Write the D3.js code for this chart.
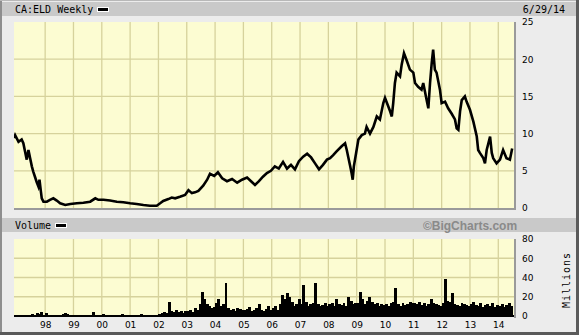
<!DOCTYPE html>
<html>
<head>
<meta charset="utf-8">
<script src="https://cdn.jsdelivr.net/npm/d3@7/dist/d3.min.js"></script>
<style>
  body { margin: 0; background: #ececec; }
  svg { display: block; }
</style>
</head>
<body>
<svg id="chart" width="579" height="335"></svg>
<script>
// weekly close (decimal year / price)
const priceT = [1996.90,1996.94,1997.06,1997.17,1997.23,1997.29,1997.35,1997.41,1997.47,1997.53,1997.58,1997.64,1997.70,1997.76,1997.80,1997.85,1997.88,1997.94,
  1998.06,1998.17,1998.29,1998.41,1998.53,1998.71,1998.89,1999.12,1999.35,1999.59,1999.77,1999.88,2000.06,2000.29,2000.53,2000.76,2001.00,2001.23,2001.47,2001.70,2001.94,
  2002.06,2002.17,2002.35,2002.47,2002.59,2002.76,2002.94,2003.06,2003.18,2003.29,2003.41,2003.58,2003.72,2003.82,2003.97,2004.10,2004.25,2004.42,2004.60,2004.78,2004.95,
  2005.13,2005.27,2005.41,2005.55,2005.69,2005.83,2005.97,2006.11,2006.25,2006.40,2006.54,2006.68,2006.82,2006.96,2007.11,2007.25,2007.39,2007.53,2007.67,2007.81,2007.95,
  2008.06,2008.17,2008.29,2008.47,2008.59,2008.65,2008.70,2008.76,2008.82,2008.86,2008.90,2008.98,2009.06,2009.18,2009.29,2009.35,2009.47,2009.59,2009.71,2009.82,2009.94,
  2010.00,2010.12,2010.18,2010.24,2010.29,2010.35,2010.41,2010.53,2010.59,2010.67,2010.76,2010.88,2011.00,2011.06,2011.17,2011.29,2011.35,2011.47,2011.53,2011.59,2011.65,2011.70,2011.76,2011.82,2011.94,
  2012.00,2012.12,2012.23,2012.35,2012.47,2012.53,2012.59,2012.65,2012.71,2012.82,2012.88,2013.00,2013.12,2013.24,2013.29,2013.35,2013.47,2013.53,2013.59,2013.65,2013.71,2013.77,2013.82,2013.94,
  2014.06,2014.17,2014.29,2014.41,2014.49];
const priceV = [9.4,9.8,8.9,9.2,8.7,7.6,6.5,7.8,6.7,5.6,4.9,4.2,3.5,2.9,3.8,2.2,1.3,0.85,
  0.85,1.1,1.3,1.0,0.63,0.4,0.54,0.63,0.7,0.85,1.3,1.1,1.1,1.0,0.85,0.77,0.63,0.54,0.4,0.31,0.31,
  0.63,0.94,1.2,1.4,1.3,1.5,1.75,2.4,2.0,2.1,2.3,3.0,3.8,4.6,4.3,4.8,4.0,3.6,3.9,3.4,3.8,
  4.1,3.6,3.1,3.6,4.2,4.7,5.0,5.6,5.3,6.2,5.3,5.8,5.2,6.3,6.9,7.3,6.8,6.0,5.2,5.8,6.5,
  6.7,7.1,7.6,8.3,8.7,7.8,6.9,5.8,4.7,3.8,5.6,7.4,9.2,9.8,10.0,10.9,10.0,10.9,12.3,11.9,14.1,
  14.8,13.6,13.0,12.3,14.1,16.8,18.2,17.7,19.3,20.8,19.9,18.6,18.2,16.8,16.3,15.9,16.8,14.5,13.4,16.8,19.5,21.3,18.6,18.2,15.9,
  14.1,14.3,13.4,12.7,11.9,10.7,10.5,13.0,14.5,15.0,14.3,13.2,11.6,9.6,7.8,7.4,6.7,6.0,7.8,8.7,9.6,7.4,6.7,6.0,
  6.5,7.8,6.7,6.5,8.0];

// volume in millions, one value per month from Nov 1996
const volStart = 1996 + 10 / 12;
const volumeM = [0.5,0.4,
  0.4,0.5,0.6,0.5,0.8,0.6,2.5,1.5,3.5,2,4,1.5,
  3,1,0.8,0.6,0.5,0.4,0.6,2.5,2.8,2,0.5,0.4,
  0.4,0.5,0.5,0.4,0.4,0.3,0.4,0.4,4,0.3,0.4,0.5,
  2,0.5,0.8,0.5,0.3,0.3,0.4,0.4,2,0.3,0.3,0.3,
  0.3,0.3,0.3,0.4,2,0.3,0.3,0.3,0.3,0.3,0.4,0.3,
  2,3,4,3,15,5,4,6,4,5,3,5,
  5,6,4,8,6,12,25,18,12,10,8,9,
  14,18,10,12,34,8,6,7,5,8,7,6,
  6,7,9,5,6,8,12,6,5,7,10,6,
  8,10,6,12,22,18,24,20,15,10,12,18,
  12,32,15,10,12,14,34,12,10,11,14,10,
  12,14,10,18,12,11,14,10,20,16,12,14,
  14,25,18,12,16,20,15,12,14,10,12,11,
  12,10,14,15,29,12,10,14,11,12,15,13,
  13,12,15,11,14,10,12,18,14,12,11,10,
  14,38,16,15,24,12,11,10,13,12,11,10,
  12,15,11,10,13,9,11,12,10,14,9,11,
  10,12,9,11,13,10];

const priceTicks = [0, 5, 10, 15, 20, 25];
const volTicks = [0, 20, 40, 60, 80];
const yearTicks = d3.range(1998, 2015);

const W = 579, H = 335;
const left = 14, right = 515;
const pTop = 22, pBottom = 208;
const vTop = 239, vBottom = 316;
const gridColor = "#d6d29c";
const plotFill = "#fcfcd2";
const mono = "'DejaVu Sans Mono', monospace";
const sans = "'DejaVu Sans', sans-serif";

const svg = d3.select("#chart");

// frame
svg.append("rect").attr("width", W).attr("height", H).attr("fill", "#ececec");
svg.append("rect").attr("x", 0).attr("y", 0).attr("width", 2).attr("height", H).attr("fill", "#8e8e8e");
svg.append("rect").attr("x", 0).attr("y", 0).attr("width", W).attr("height", 1).attr("fill", "#b8b8b8");
svg.append("rect").attr("x", W - 3).attr("y", 0).attr("width", 3).attr("height", H).attr("fill", "#5a5a5a");
svg.append("rect").attr("x", 0).attr("y", H - 3).attr("width", W).attr("height", 3).attr("fill", "#5a5a5a");

// header bands
svg.append("rect").attr("x", 2).attr("y", 2).attr("width", W - 5).attr("height", 14).attr("fill", "#c9c9c9");
svg.append("rect").attr("x", 2).attr("y", 218).attr("width", W - 5).attr("height", 14).attr("fill", "#c9c9c9");

const x = d3.scaleLinear().domain([1996.90, 2014.59]).range([left, right]);
const yP = d3.scaleLinear().domain([0, 25]).range([pBottom, pTop]);
const yV = d3.scaleLinear().domain([0, 80]).range([vBottom, vTop]);

function panel(top, bottom, yScale, ticks, id) {
  const g = svg.append("g");
  g.append("clipPath").attr("id", id).append("rect")
    .attr("x", left).attr("y", top).attr("width", right - left).attr("height", bottom - top);
  g.append("rect").attr("x", left).attr("y", top).attr("width", right - left).attr("height", bottom - top)
    .attr("fill", plotFill);
  g.selectAll(".vg").data(yearTicks).enter().append("line")
    .attr("x1", d => x(d)).attr("x2", d => x(d)).attr("y1", top).attr("y2", bottom)
    .attr("stroke", gridColor).attr("stroke-width", 1.3);
  g.selectAll(".hg").data(ticks.filter(t => yScale(t) > top + 2 && yScale(t) < bottom - 2)).enter().append("line")
    .attr("x1", left).attr("x2", right).attr("y1", d => yScale(d)).attr("y2", d => yScale(d))
    .attr("stroke", gridColor).attr("stroke-width", 1.3);
  // right axis labels
  const ax = svg.append("g").attr("transform", `translate(${right + 6},0)`)
    .call(d3.axisRight(yScale).tickValues(ticks).tickSize(0).tickPadding(1));
  ax.select(".domain").remove();
  ax.selectAll("text").attr("font-family", sans).attr("font-size", 9).attr("fill", "#000");
  return g;
}

const gp = panel(pTop, pBottom, yP, priceTicks, "clipP");
const gv = panel(vTop, vBottom, yV, volTicks, "clipV");

// price line
const line = d3.line().x((d, i) => x(priceT[i])).y(d => yP(d));
gp.append("path").datum(priceV).attr("clip-path", "url(#clipP)")
  .attr("d", line).attr("fill", "none").attr("stroke", "#000")
  .attr("stroke-width", 2.6).attr("stroke-linejoin", "miter");

// plot shadow border
gp.append("rect").attr("x", right - 1).attr("y", pTop).attr("width", 2).attr("height", pBottom - pTop + 1).attr("fill", "#9a9a9a");
gp.append("rect").attr("x", left).attr("y", pBottom).attr("width", right - left + 1).attr("height", 2).attr("fill", "#9a9a9a");

// volume bars
const bw = x(1 / 12) - x(0);
gv.append("g").attr("clip-path", "url(#clipV)").selectAll("rect").data(volumeM).enter().append("rect")
  .attr("x", (d, i) => x(volStart + i / 12))
  .attr("width", bw + 0.6)
  .attr("y", d => yV(d))
  .attr("height", d => vBottom - yV(d))
  .attr("fill", "#000")
  .attr("shape-rendering", "crispEdges");
gv.append("rect").attr("x", left).attr("y", vBottom - 1).attr("width", right - left).attr("height", 2).attr("fill", "#000");
gv.append("rect").attr("x", right - 1).attr("y", vTop).attr("width", 2).attr("height", vBottom - vTop + 2).attr("fill", "#9a9a9a");

// x axis labels
const xa = svg.append("g").attr("transform", `translate(0,${vBottom + 2})`)
  .call(d3.axisBottom(x).tickValues(yearTicks).tickSize(0).tickPadding(4)
    .tickFormat(d => String(d % 100).padStart(2, "0")));
xa.select(".domain").remove();
xa.selectAll("text").attr("font-family", sans).attr("font-size", 9).attr("fill", "#000");

// header texts
svg.append("text").attr("x", 15).attr("y", 13).attr("font-family", mono).attr("font-size", 10)
  .text("CA:ELD Weekly");
svg.append("rect").attr("x", 97).attr("y", 7).attr("width", 12).attr("height", 5).attr("fill", "#fff");
svg.append("rect").attr("x", 98).attr("y", 8).attr("width", 10).attr("height", 3).attr("fill", "#000");
svg.append("text").attr("x", 565).attr("y", 13).attr("text-anchor", "end")
  .attr("font-family", mono).attr("font-size", 10).text("6/29/14");

svg.append("text").attr("x", 15).attr("y", 229).attr("font-family", mono).attr("font-size", 10)
  .text("Volume");
svg.append("rect").attr("x", 55).attr("y", 223).attr("width", 12).attr("height", 5).attr("fill", "#fff");
svg.append("rect").attr("x", 56).attr("y", 224).attr("width", 10).attr("height", 3).attr("fill", "#000");
svg.append("text").attr("x", 470).attr("y", 229.5).attr("text-anchor", "middle")
  .attr("font-family", "'Liberation Sans', Arial, sans-serif").attr("font-weight", "bold")
  .attr("font-size", 12).attr("fill", "#8a8a8a").text("\u00A9BigCharts.com");

svg.append("text").attr("transform", "translate(570,280) rotate(-90)").attr("text-anchor", "middle")
  .attr("font-family", mono).attr("font-size", 10).attr("letter-spacing", 1).text("Millions");
</script>
</body>
</html>
